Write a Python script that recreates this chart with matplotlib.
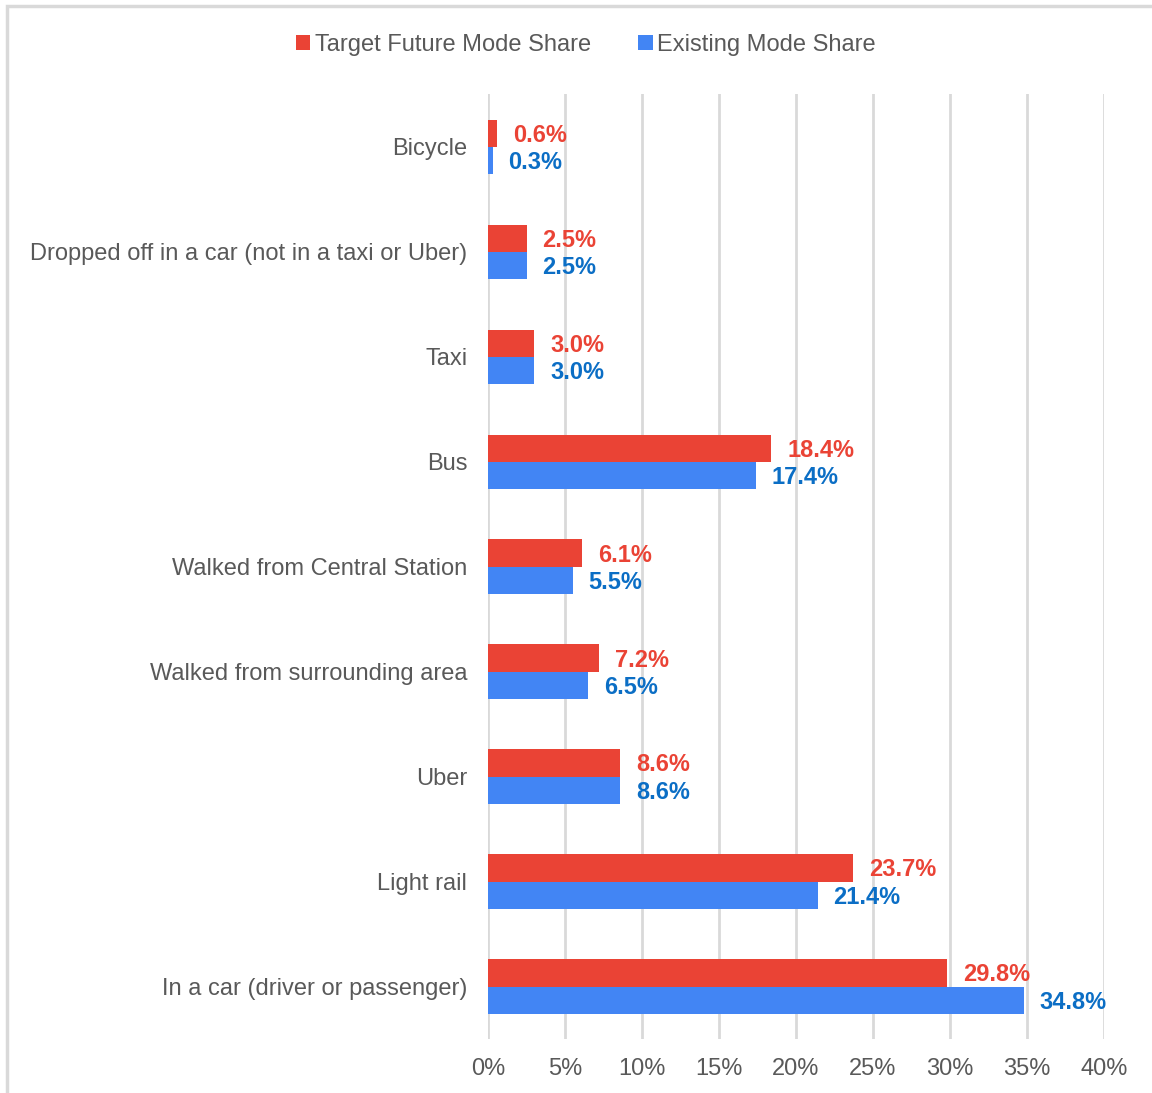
import matplotlib.pyplot as plt
from matplotlib.patches import Rectangle
from matplotlib.ticker import FuncFormatter

plt.rcParams['font.family'] = ['Liberation Sans', 'DejaVu Sans']

categories = ["Bicycle", "Dropped off in a car (not in a taxi or Uber)", "Taxi", "Bus",
              "Walked from Central Station", "Walked from surrounding area", "Uber",
              "Light rail", "In a car (driver or passenger)"]
target = [0.6, 2.5, 3.0, 18.4, 6.1, 7.2, 8.6, 23.7, 29.8]
existing = [0.3, 2.5, 3.0, 17.4, 5.5, 6.5, 8.6, 21.4, 34.8]

red = '#EA4335'
blue = '#4285F4'
red_txt = '#EA4335'
blue_txt = '#0B6EC5'
grey_txt = '#595959'

fig = plt.figure(figsize=(11.52, 10.93), dpi=100)
ax = fig.add_axes([488/1152, 54/1093, 616/1152, 944.5/1093])

y = list(range(len(categories)))
h = 0.26
ax.barh([i - h/2 for i in y], target, height=h, color=red, label='Target Future Mode Share', zorder=3)
ax.barh([i + h/2 for i in y], existing, height=h, color=blue, label='Existing Mode Share', zorder=3)

for i in y:
    ax.annotate(f"{target[i]:.1f}%", (target[i], i - h/2), xytext=(16, -2), textcoords='offset pixels',
                va='center', ha='left', color=red_txt, fontsize=17, fontweight='bold')
    ax.annotate(f"{existing[i]:.1f}%", (existing[i], i + h/2), xytext=(16, -2), textcoords='offset pixels',
                va='center', ha='left', color=blue_txt, fontsize=17, fontweight='bold')

ax.set_ylim(len(categories) - 0.5, -0.5)
ax.set_xlim(0, 40)
ax.set_xticks(range(0, 41, 5))
ax.xaxis.set_major_formatter(FuncFormatter(lambda v, p: f"{int(v)}%"))
ax.set_yticks(y)
ax.set_yticklabels(categories)
ax.tick_params(axis='both', length=0, labelsize=17, labelcolor=grey_txt)
ax.tick_params(axis='y', pad=15)
ax.tick_params(axis='x', pad=14)
ax.grid(axis='x', color='#D9D9D9', linewidth=2, zorder=0)
for s in ax.spines.values():
    s.set_visible(False)

fig.legend(loc='center', bbox_to_anchor=(586/1152, 1 - 45/1093), ncol=2, frameon=False,
           fontsize=17, handlelength=0.6, handleheight=0.6, handletextpad=0.2,
           columnspacing=2.0, labelcolor=grey_txt)

fig.patches.append(Rectangle((7/1152, -0.1), 1.2, 1 - 6/1093 + 0.1, transform=fig.transFigure,
                             fill=False, edgecolor='#D9D9D9', linewidth=2.5))

fig.savefig('out.png', dpi=100)
